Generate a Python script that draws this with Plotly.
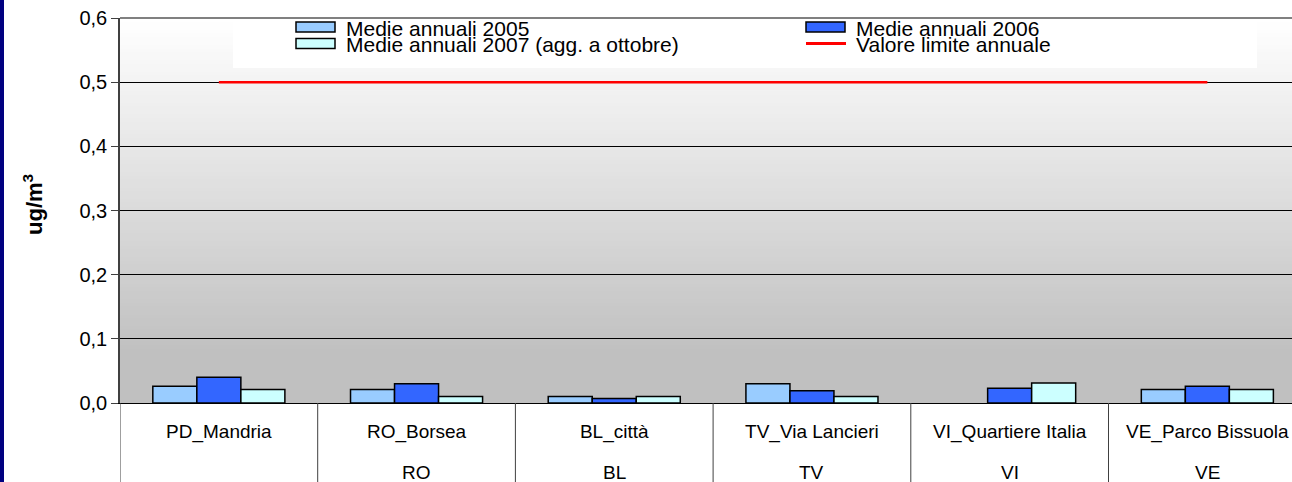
import plotly.graph_objects as go

W, H = 1292, 482
ML, MR, MT, MB = 120, 0, 18, 79

stations = ["PD_Mandria", "RO_Borsea", "BL_città", "TV_Via Lancieri", "VI_Quartiere Italia", "VE_Parco Bissuola"]
provinces = ["", "RO", "BL", "TV", "VI", "VE"]

medie_2005 = [0.026, 0.021, 0.01, 0.03, None, 0.021]
medie_2006 = [0.04, 0.03, 0.007, 0.019, 0.023, 0.026]
medie_2007 = [0.021, 0.01, 0.01, 0.01, 0.031, 0.021]
valore_limite = [0.5, 0.5, 0.5, 0.5, 0.5, 0.5]

y_ticks = [0.0, 0.1, 0.2, 0.3, 0.4, 0.5, 0.6]

font = "Liberation Sans, Arial, sans-serif"
pw = W - ML - MR
ph = H - MT - MB


def px_x(px):
    return (px - ML) / pw


def px_y(py):
    return 1 - (py - MT) / ph


series = [
    ("Medie annuali 2005", medie_2005, "#99CCFF"),
    ("Medie annuali 2006", medie_2006, "#3366FF"),
    ("Medie annuali 2007 (agg. a ottobre)", medie_2007, "#CCFFFF"),
]

fig = go.Figure()
idx = list(range(len(stations)))
for name, vals, col in series:
    fig.add_trace(go.Bar(x=idx, y=vals, name=name,
                         marker=dict(color=col, line=dict(color="black", width=1.5))))

fig.add_trace(go.Scatter(x=idx, y=valore_limite, name="Valore limite annuale", mode="lines",
                         line=dict(color="#FF0000", width=2.5)))

shapes = []
# gradient background: overlapping rects from the top down, white -> grey
n = 100
for i in range(n, 0, -1):
    y1 = 0.6 * i / n
    t = min(max((y1 - 0.08) / 0.52, 0), 1)
    g = int(round(192 + (255 - 192) * t))
    shapes.append(dict(type="rect", xref="paper", yref="y", x0=0, x1=1, y0=0, y1=y1,
                       fillcolor=f"rgb({g},{g},{g})", line=dict(width=0), layer="below"))

# legend box (white)
shapes.append(dict(type="rect", xref="paper", yref="paper", x0=px_x(233), x1=px_x(1257),
                   y0=px_y(68), y1=1, fillcolor="white", line=dict(width=0), layer="below"))

# top border
shapes.append(dict(type="line", xref="paper", yref="paper", x0=0, x1=1, y0=1, y1=1,
                   line=dict(color="#808080", width=2)))

# category dividers below the axis
for i in range(len(stations) + 1):
    shapes.append(dict(type="line", xref="x", yref="paper", x0=i - 0.5, x1=i - 0.5,
                       y0=0, y1=-MB / ph, line=dict(color="#404040", width=1)))

# navy frame strip on the left
shapes.append(dict(type="rect", xref="paper", yref="paper", x0=px_x(0), x1=px_x(4),
                   y0=px_y(H), y1=px_y(0), fillcolor="#000080", line=dict(width=0)))

annotations = []
for i, p in enumerate(provinces):
    if p:
        annotations.append(dict(x=i, y=px_y(472), xref="x", yref="paper", text=p, showarrow=False,
                                font=dict(family=font, size=19, color="black"), yanchor="middle"))

# y axis title
annotations.append(dict(x=px_x(33), y=px_y(205), xref="paper", yref="paper", textangle=-90,
                        text="<b>ug/m<sup>3</sup></b>", showarrow=False,
                        font=dict(family=font, size=22, color="black"),
                        xanchor="center", yanchor="middle"))

# legend drawn as swatches + labels (two columns, tight rows)
leg_rows = [(0, 296, 27), (1, 806, 27), (2, 296, 43.5)]
for k, lx, ly in leg_rows:
    name, _, col = series[k]
    shapes.append(dict(type="rect", xref="paper", yref="paper", x0=px_x(lx), x1=px_x(lx + 39),
                       y0=px_y(ly + 5), y1=px_y(ly - 5), fillcolor=col,
                       line=dict(color="black", width=1.5)))
    annotations.append(dict(x=px_x(lx + 48), y=px_y(ly + 1), xref="paper", yref="paper", text=name,
                            showarrow=False, xanchor="left", yanchor="middle",
                            font=dict(family=font, size=21, color="black")))
shapes.append(dict(type="line", xref="paper", yref="paper", x0=px_x(806), x1=px_x(846),
                   y0=px_y(43.5), y1=px_y(43.5), line=dict(color="#FF0000", width=3)))
annotations.append(dict(x=px_x(854), y=px_y(44.5), xref="paper", yref="paper",
                        text="Valore limite annuale", showarrow=False, xanchor="left",
                        yanchor="middle", font=dict(family=font, size=21, color="black")))

fig.update_layout(
    width=W, height=H,
    margin=dict(l=ML, r=MR, t=MT, b=MB, pad=0),
    paper_bgcolor="white", plot_bgcolor="white",
    separators=",.",
    barmode="group", bargap=0.332, bargroupgap=0,
    font=dict(family=font, size=19, color="black"),
    shapes=shapes, annotations=annotations,
    showlegend=False,
)
fig.update_xaxes(
    range=[-0.5, -0.5 + pw / 197.7], tickvals=idx, ticktext=stations,
    showline=True, linecolor="black", linewidth=1, showgrid=False, ticks="",
    ticklabelstandoff=11, tickfont=dict(family=font, size=19), zeroline=False,
)
fig.update_yaxes(
    range=[0, 0.6], tickvals=y_ticks, tickformat=".1f",
    showgrid=True, gridcolor="black", gridwidth=1,
    showline=True, linecolor="#404040", linewidth=1.5,
    ticks="outside", ticklen=7, tickcolor="#404040", tickfont=dict(family=font, size=20),
    zeroline=False,
)

fig.write_html("out.html", config={"displayModeBar": False},
               post_script="document.body.style.margin='0';")
